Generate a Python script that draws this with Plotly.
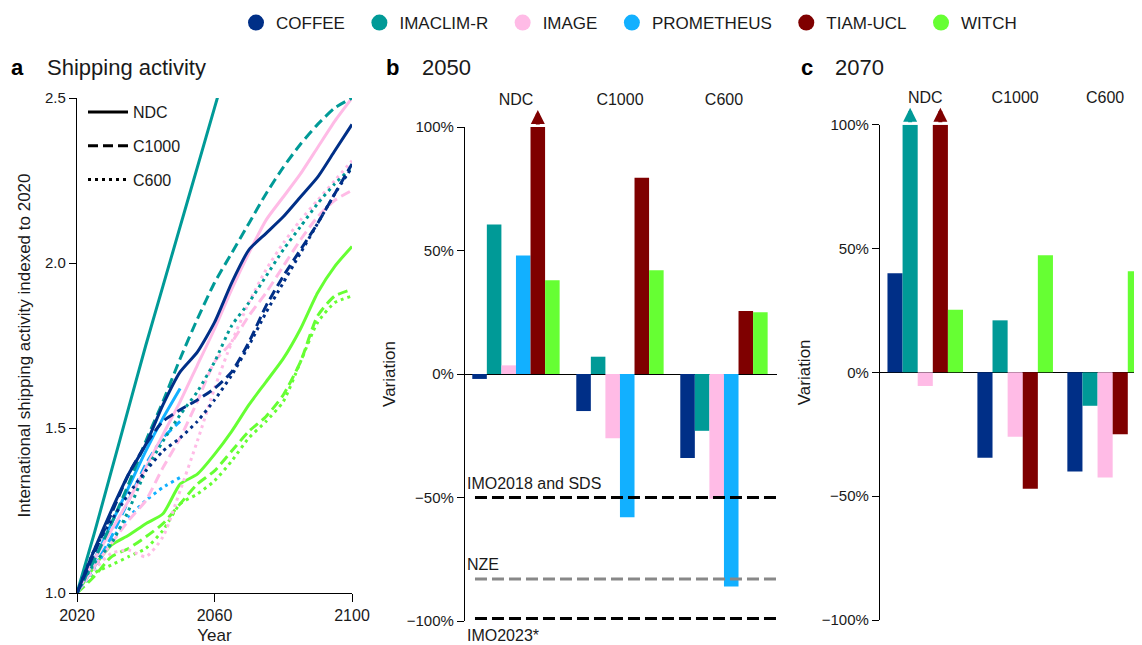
import plotly.graph_objects as go

# ---------------- data ----------------
YEARS = [2020, 2025, 2030, 2035, 2040, 2045, 2050, 2055, 2060,
         2065, 2070, 2075, 2080, 2085, 2090, 2095, 2100]

MODELS = ["COFFEE", "IMACLIM-R", "IMAGE", "PROMETHEUS", "TIAM-UCL", "WITCH"]
COLORS = {
    "COFFEE": "#002f87",
    "IMACLIM-R": "#009a97",
    "IMAGE": "#ffbbe6",
    "PROMETHEUS": "#12b0ff",
    "TIAM-UCL": "#7f0000",
    "WITCH": "#66ff33",
}
SCENARIOS = ["NDC", "C1000", "C600"]

# panel a: shipping activity indexed to 2020
coffee_ndc = [1.0, 1.13, 1.25, 1.36, 1.45, 1.57, 1.67, 1.73, 1.82, 1.94, 2.04, 2.09, 2.14, 2.20, 2.26, 2.34, 2.42]
coffee_c1000 = [1.0, 1.12, 1.24, 1.36, 1.45, 1.52, 1.555, 1.585, 1.62, 1.67, 1.76, 1.87, 1.96, 2.04, 2.12, 2.21, 2.30]
coffee_c600 = [1.0, 1.13, 1.22, 1.30, 1.37, 1.43, 1.47, 1.52, 1.585, 1.66, 1.75, 1.85, 1.94, 2.03, 2.12, 2.21, 2.29]
imaclim_ndc = [1.0, 1.18, 1.37, 1.56, 1.75, 1.93, 2.11, 2.29, 2.47, 2.65]
imaclim_c1000 = [1.0, 1.10, 1.21, 1.33, 1.46, 1.58, 1.71, 1.83, 1.94, 2.03, 2.12, 2.21, 2.29, 2.36, 2.42, 2.47, 2.50]
imaclim_c600 = [1.0, 1.09, 1.15, 1.25, 1.37, 1.46, 1.54, 1.61, 1.70, 1.81, 1.88, 1.96, 2.04, 2.11, 2.18, 2.24, 2.29]
image_ndc = [1.0, 1.10, 1.19, 1.28, 1.38, 1.48, 1.58, 1.69, 1.80, 1.92, 2.03, 2.13, 2.20, 2.27, 2.35, 2.43, 2.50]
image_c1000 = [1.0, 1.08, 1.15, 1.22, 1.28, 1.38, 1.47, 1.58, 1.70, 1.76, 1.84, 1.91, 1.99, 2.07, 2.14, 2.19, 2.22]
image_c600 = [1.0, 1.07, 1.12, 1.13, 1.11, 1.17, 1.31, 1.46, 1.62, 1.76, 1.88, 1.98, 2.06, 2.13, 2.19, 2.25, 2.31]
prometheus_ndc = [1.0, 1.10, 1.21, 1.32, 1.43, 1.53, 1.62]
prometheus_c1000 = [1.0, 1.08, 1.17, 1.28, 1.39, 1.47, 1.52]
prometheus_c600 = [1.0, 1.07, 1.16, 1.23, 1.28, 1.32, 1.35]
witch_ndc = [1.0, 1.08, 1.145, 1.175, 1.21, 1.24, 1.33, 1.36, 1.42, 1.49, 1.57, 1.64, 1.71, 1.80, 1.91, 1.99, 2.05]
witch_c1000 = [1.0, 1.05, 1.11, 1.135, 1.17, 1.21, 1.27, 1.33, 1.37, 1.43, 1.49, 1.535, 1.60, 1.70, 1.84, 1.90, 1.92]
witch_c600 = [1.0, 1.06, 1.085, 1.11, 1.135, 1.19, 1.27, 1.30, 1.34, 1.40, 1.47, 1.52, 1.58, 1.70, 1.82, 1.88, 1.90]

# panel b: variation in 2050 (%), order NDC, C1000, C600
b_coffee = [-2, -15, -34]
b_imaclim = [60.5, 7, -23]
b_image = [3.5, -26, -50.5]
b_prometheus = [48, -58, -86]
b_tiam = [100, 79.5, 25.5]
b_witch = [38, 42, 25]
b_capped = {("TIAM-UCL", "NDC")}

# panel c: variation in 2070 (%)
c_coffee = [40, -34.5, -40]
c_imaclim = [100, 21, -13.5]
c_image = [-5.5, -26, -42.5]
c_tiam = [100, -47, -25]
c_witch = [25.3, 47.3, 40.8]
c_capped = {("IMACLIM-R", "NDC"), ("TIAM-UCL", "NDC")}

# reference targets for 2050
target_names = ["IMO2018 and SDS", "NZE", "IMO2023*"]
target_values = [-50, -83, -99]

# ---------------- figure ----------------
FONT = "Liberation Sans, Arial, sans-serif"
TXT = "#1a1a1a"
OFF = 8                      # page body margin
FW, FH = 1142 - OFF, 645 - OFF
BARGAP = 0.16


def px(x):
    return (x - OFF) / FW


def py(y):
    return (FH + OFF - y) / FH


DASH = {"NDC": "solid", "C1000": "10px,5px", "C600": "3px,4px"}

fig = go.Figure()

series_a = [
    ("WITCH", "C600", witch_c600), ("WITCH", "C1000", witch_c1000), ("WITCH", "NDC", witch_ndc),
    ("PROMETHEUS", "C600", prometheus_c600), ("PROMETHEUS", "C1000", prometheus_c1000),
    ("PROMETHEUS", "NDC", prometheus_ndc),
    ("IMAGE", "C600", image_c600), ("IMAGE", "C1000", image_c1000), ("IMAGE", "NDC", image_ndc),
    ("IMACLIM-R", "C600", imaclim_c600), ("IMACLIM-R", "C1000", imaclim_c1000),
    ("IMACLIM-R", "NDC", imaclim_ndc),
    ("COFFEE", "C600", coffee_c600), ("COFFEE", "C1000", coffee_c1000), ("COFFEE", "NDC", coffee_ndc),
]
for m, s, vals in series_a:
    fig.add_trace(go.Scatter(
        x=YEARS[:len(vals)], y=vals, mode="lines",
        line=dict(color=COLORS[m], width=3, dash=DASH[s], shape="spline", smoothing=0.6),
        xaxis="x", yaxis="y", showlegend=False, hoverinfo="skip"))

# model legend (top)
for m in MODELS:
    fig.add_trace(go.Scatter(
        x=[None], y=[None], mode="markers", name=m + "\u00a0\u00a0",
        marker=dict(color=COLORS[m], size=17, symbol="circle"),
        xaxis="x", yaxis="y", legend="legend"))

# line-style legend (panel a)
for s in SCENARIOS:
    fig.add_trace(go.Scatter(
        x=[None], y=[None], mode="lines", name=s, legendgroup=s,
        line=dict(color="black", width=3, dash=DASH[s]),
        xaxis="x", yaxis="y", legend="legend2"))

scen_x = list(range(len(SCENARIOS)))


def add_bars(series, xa, ya, capped):
    n = len(series)
    slot = (1 - BARGAP) / n
    for i, (m, vals) in enumerate(series):
        fig.add_trace(go.Bar(
            x=scen_x, y=vals, marker=dict(color=COLORS[m], line=dict(width=0)),
            xaxis=xa, yaxis=ya, showlegend=False, hoverinfo="skip"))
        for j, s in enumerate(SCENARIOS):
            if (m, s) in capped:
                xc = scen_x[j] - (1 - BARGAP) / 2 + (i + 0.5) * slot
                fig.add_annotation(
                    x=xc, y=vals[j], xref=xa, yref=ya, text="", yshift=17,
                    showarrow=True, ax=0, ay=16, arrowhead=2, arrowsize=0.7,
                    arrowwidth=4, arrowcolor=COLORS[m], standoff=0, startstandoff=0)


add_bars([("COFFEE", b_coffee), ("IMACLIM-R", b_imaclim), ("IMAGE", b_image),
          ("PROMETHEUS", b_prometheus), ("TIAM-UCL", b_tiam), ("WITCH", b_witch)],
         "x2", "y2", b_capped)
add_bars([("COFFEE", c_coffee), ("IMACLIM-R", c_imaclim), ("IMAGE", c_image),
          ("TIAM-UCL", c_tiam), ("WITCH", c_witch)],
         "x3", "y3", c_capped)

# target lines in panel b
target_colors = ["black", "#888888", "black"]
for name, val, col in zip(target_names, target_values, target_colors):
    fig.add_shape(type="line", xref="x2 domain", x0=0.032, x1=1.0, yref="y2", y0=val, y1=val,
                  line=dict(color=col, width=3, dash="12px,5px"), layer="above")
    below = val <= -95
    fig.add_annotation(text=name, xref="x2 domain", x=0.0, yref="y2", y=val,
                       xanchor="left", yanchor="top" if below else "bottom",
                       yshift=-6 if below else 4, showarrow=False,
                       font=dict(family=FONT, size=16, color=TXT))

# panel titles
for letter, title, xl, xt in [("a", "Shipping activity", 9, 45), ("b", "2050", 384, 420),
                              ("c", "2070", 799, 833)]:
    fig.add_annotation(text="<b>%s</b>" % letter, xref="paper", yref="paper",
                       x=px(xl), y=py(68), xanchor="left", yanchor="middle",
                       showarrow=False, font=dict(family=FONT, size=22, color="black"))
    fig.add_annotation(text=title, xref="paper", yref="paper",
                       x=px(xt), y=py(68), xanchor="left", yanchor="middle",
                       showarrow=False, font=dict(family=FONT, size=22, color=TXT))

axis_common = dict(showgrid=False, zeroline=False, showline=True, linecolor="black",
                   linewidth=1.3, ticks="outside", tickcolor="black", tickwidth=1.3,
                   tickfont=dict(family=FONT, size=15, color=TXT))

pct_vals = [-100, -50, 0, 50, 100]
pct_text = ["\u2212100%", "\u221250%", "0%", "50%", "100%"]

fig.update_layout(
    width=FW, height=FH,
    margin=dict(l=0, r=0, t=0, b=0, autoexpand=False),
    paper_bgcolor="white", plot_bgcolor="white",
    barmode="group", bargap=BARGAP, bargroupgap=0,
    font=dict(family=FONT, color=TXT),
    xaxis=dict(axis_common, domain=[px(77), px(352)], range=[2020, 2100],
               tickvals=[2020, 2060, 2100], ticklen=8, anchor="y",
               tickfont=dict(family=FONT, size=16, color=TXT),
               title=dict(text="Year", font=dict(family=FONT, size=17, color=TXT), standoff=10)),
    yaxis=dict(axis_common, domain=[py(593), py(98)], range=[1.0, 2.5],
               tickvals=[1.0, 1.5, 2.0, 2.5], ticktext=["1.0", "1.5", "2.0", "2.5"],
               ticklen=7, anchor="x",
               title=dict(text="International shipping activity indexed to 2020",
                          font=dict(family=FONT, size=17, color=TXT), standoff=10)),
    xaxis2=dict(domain=[px(465), px(777)], range=[-0.49, 2.51], tickvals=scen_x,
                ticktext=SCENARIOS, side="top", showline=False, ticks="", showgrid=False,
                zeroline=False, anchor="y2", ticklabelstandoff=18,
                tickfont=dict(family=FONT, size=16, color=TXT)),
    yaxis2=dict(axis_common, domain=[py(621), py(127)], range=[-100, 100],
                tickvals=pct_vals, ticktext=pct_text, ticklen=7, anchor="x2",
                zeroline=True, zerolinecolor="black", zerolinewidth=1.3,
                title=dict(text="Variation", font=dict(family=FONT, size=17, color=TXT), standoff=6)),
    xaxis3=dict(domain=[px(880), 1.0], range=[-0.503, 2.41], tickvals=scen_x,
                ticktext=SCENARIOS, side="top", showline=False, ticks="", showgrid=False,
                zeroline=False, anchor="y3", ticklabelstandoff=18,
                tickfont=dict(family=FONT, size=16, color=TXT)),
    xaxis4=dict(overlaying="x3", anchor="free", position=py(372.3),
                range=[-0.503, 2.41], tickvals=[0.5, 1.5], ticks="outside", ticklen=6,
                tickcolor="black", tickwidth=1.3, showticklabels=False, showline=False,
                showgrid=False, zeroline=False),
    yaxis3=dict(axis_common, domain=[py(620), py(124.7)], range=[-100, 100],
                tickvals=pct_vals, ticktext=pct_text, ticklen=7, anchor="x3",
                zeroline=True, zerolinecolor="black", zerolinewidth=1.3,
                title=dict(text="Variation", font=dict(family=FONT, size=17, color=TXT), standoff=6)),
    legend=dict(orientation="h", x=228 / FW, y=py(23), xanchor="left", yanchor="middle",
                font=dict(family=FONT, size=17, color=TXT), bgcolor="rgba(0,0,0,0)",
                itemclick=False, itemdoubleclick=False),
    legend2=dict(orientation="v", x=75 / FW, y=py(95), xanchor="left", yanchor="top",
                 font=dict(family=FONT, size=16, color=TXT), bgcolor="rgba(0,0,0,0)",
                 tracegroupgap=10, itemwidth=40, itemclick=False, itemdoubleclick=False),
    showlegend=True,
)

fig.write_html("out.html")
